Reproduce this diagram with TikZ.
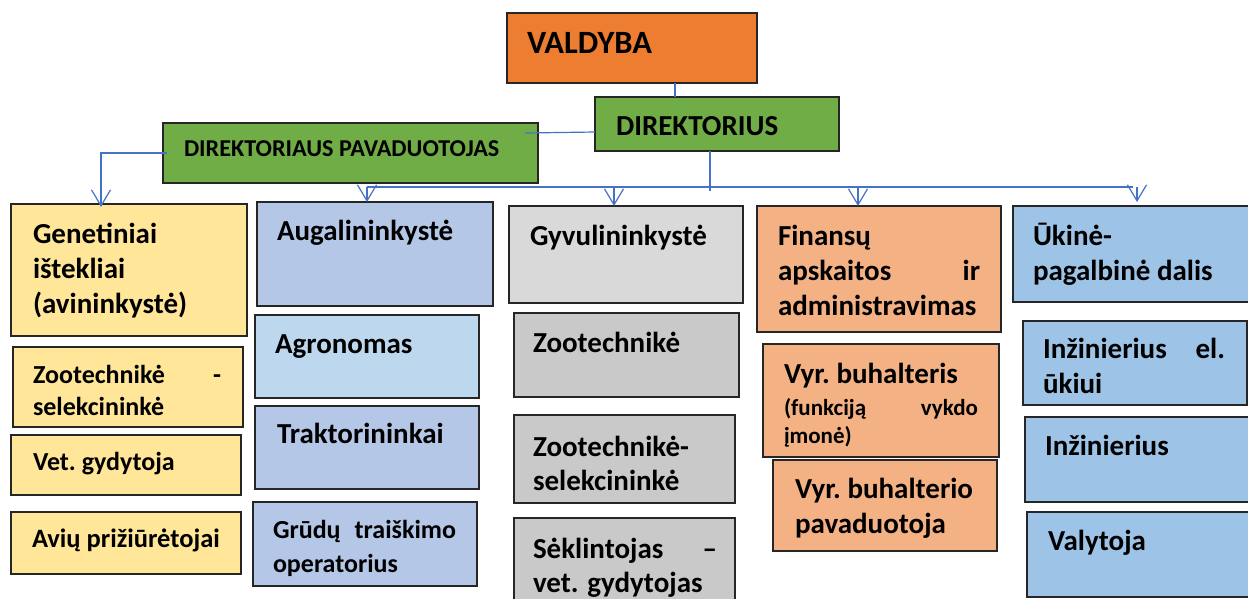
\documentclass[tikz,border=0pt]{standalone}
\usepackage{fontspec}
\setmainfont{Carlito}
\usetikzlibrary{arrows.meta}
\definecolor{orng}{HTML}{ED7D31}
\definecolor{grn}{HTML}{70AD47}
\definecolor{ylw}{HTML}{FFE699}
\definecolor{blA}{HTML}{B4C7E7}
\definecolor{blB}{HTML}{BDD7EE}
\definecolor{gyA}{HTML}{D9D9D9}
\definecolor{gyB}{HTML}{C9C9C9}
\definecolor{pch}{HTML}{F4B183}
\definecolor{skb}{HTML}{9DC3E6}
\definecolor{lineblue}{HTML}{4472C4}
\tikzset{
  box/.style={draw=black!85, line width=1.2pt, inner sep=0pt, outer sep=0pt, anchor=north west},
  txt/.style={anchor=base west, inner sep=0pt, outer sep=0pt, align=flush left, text width=240pt,
    font={\bfseries\frenchspacing\fontsize{29}{35}\selectfont}},
  txtm/.style={txt, font={\bfseries\frenchspacing\fontsize{26}{32}\selectfont}},
  txts/.style={txt, font={\bfseries\frenchspacing\fontsize{23}{28}\selectfont}},
  conn/.style={draw=lineblue, line width=1.2pt},
  arr/.style={conn, -{Straight Barb[length=16pt,width=19pt,line width=1.2pt]}}
}
\newcommand\obox[6]{\node[box, fill=#6, minimum width={(#4-#2)*1pt}, minimum height={(#5-#3)*1pt}] (#1) at (#2,#3) {};}
\begin{document}
\begin{tikzpicture}[x=1pt,y=-1pt]
\useasboundingbox (0,0) rectangle (1248,598);
\clip (0,0) rectangle (1248,598);
\fill[white] (0,0) rectangle (1248,598);
% top level
\obox{valdyba}{507}{13}{757}{83}{orng}
\obox{dir}{595}{97}{839}{151}{grn}
\obox{dp}{163}{123}{538}{183}{grn}
\node[txt, font={\bfseries\fontsize{32.5}{38}\selectfont}] (valdyba-t) at (527,53) {VALDYBA};
\node[txt, font={\bfseries\fontsize{29}{35}\selectfont}] (dir-t) at (616,135) {DIREKTORIUS};
\node[txt, text width=360pt, font={\bfseries\fontsize{24.2}{28}\selectfont}] (dp-t) at (184,156) {DIREKTORIAUS PAVADUOTOJAS};
% column 1
\obox{gen}{11}{204}{247}{336}{ylw}
\obox{zsl}{13}{347}{243}{427}{ylw}
\obox{vet}{11}{435}{241}{495}{ylw}
\obox{aviu}{11}{512}{241}{574}{ylw}
\node[txt] (gen-t) at (33,243) {Genetiniai\\ištekliai\\(avininkystė)};
\node[txtm, text width=188pt] (zsl-t) at (33,383) {Zootechnikė\hfill-\\selekcininkė};
\node[txtm] (vet-t) at (33,470) {Vet. gydytoja};
\node[txtm, font={\bfseries\frenchspacing\fontsize{26.5}{32}\selectfont}] (aviu-t) at (32,547) {Avių prižiūrėtojai};
% column 2
\obox{aug}{257}{202}{493}{306}{blA}
\obox{agr}{255}{315}{479}{398}{blB}
\obox{trk}{255}{406}{479}{489}{blA}
\obox{grd}{253}{502}{477}{586}{blA}
\node[txt] (aug-t) at (277,240) {Augalininkystė};
\node[txt] (agr-t) at (275,353) {Agronomas};
\node[txt] (trk-t) at (277,443) {Traktorininkai};
\node[txtm, text width=183pt, font={\bfseries\fontsize{26}{34}\selectfont}] (grd-t) at (273,538) {Grūdų\hfill traiškimo\\operatorius};
% column 3
\obox{gyv}{509}{206}{743}{303}{gyA}
\obox{zt}{514}{313}{739}{397}{gyB}
\obox{zts}{514}{415}{735}{503}{gyB}
\obox{skl}{514}{518}{735}{620}{gyB}
\node[txt] (gyv-t) at (530,245) {Gyvulininkystė};
\node[txt] (zt-t) at (533,352) {Zootechnikė};
\node[txt, font={\bfseries\fontsize{29}{34}\selectfont}] (zts-t) at (533,456) {Zootechnikė-\\selekcininkė};
\node[txt, text width=184pt, font={\bfseries\fontsize{29}{34}\selectfont}] (skl-t) at (533,558) {Sėklintojas\hfill –\\vet. gydytojas};
% column 4
\obox{fin}{757}{206}{1001}{332}{pch}
\obox{vb}{763}{344}{999}{457}{pch}
\obox{vbp}{773}{460}{997}{551}{pch}
\node[txt, text width=202pt] (fin-t) at (778,245) {Finansų\\apskaitos\hfill ir\\administravimas};
\node[txt] (vb-t) at (784,383) {Vyr. buhalteris};
\node[txts, text width=194pt] (vb-s) at (784,415) {(funkciją\hfill vykdo\\įmonė)};
\node[txt] (vbp-t) at (795,498) {Vyr. buhalterio\\pavaduotoja};
% column 5
\obox{uk}{1013}{206}{1252}{302}{skb}
\obox{iel}{1023}{321}{1247}{405}{skb}
\obox{inz}{1025}{417}{1252}{502}{skb}
\obox{val}{1027}{512}{1252}{597}{skb}
\node[txt] (uk-t) at (1033,245) {Ūkinė-\\pagalbinė dalis};
\node[txt, text width=182pt] (iel-t) at (1043,358) {Inžinierius\hfill el.\\ūkiui};
\node[txt] (inz-t) at (1045,455) {Inžinierius};
\node[txt] (val-t) at (1048,550) {Valytoja};
% connectors
\draw[conn] ([xshift=43pt]valdyba.south) -- ([xshift=-42pt]dir.north);
\draw[conn] ([yshift=-8pt]dir.west) -- ([xshift=-13pt,yshift=20pt]dp.east);
\draw[arr] ([xshift=4pt]dp.west) -| ([xshift=-28pt,yshift=-3pt]gen.north);
\coordinate (busL) at (367,187);
\coordinate (busR) at (1133,187);
\draw[conn] ([xshift=-7pt]dir.south) -- ++(0,40);
\draw[conn] (busL) -- (busR);
\coordinate (d1) at ([xshift=-8pt]aug.north);
\coordinate (d2) at ([xshift=-12pt]gyv.north);
\coordinate (d3) at ([xshift=-21pt]fin.north);
\coordinate (d4) at ([xshift=4.5pt,yshift=4pt]uk.north);
\draw[arr] (d1 |- busL) -- (d1);
\draw[arr] (d2 |- busL) -- (d2);
\draw[arr] (d3 |- busL) -- (d3);
\draw[arr] (d4 |- busL) -- (d4);
\end{tikzpicture}
\end{document}
